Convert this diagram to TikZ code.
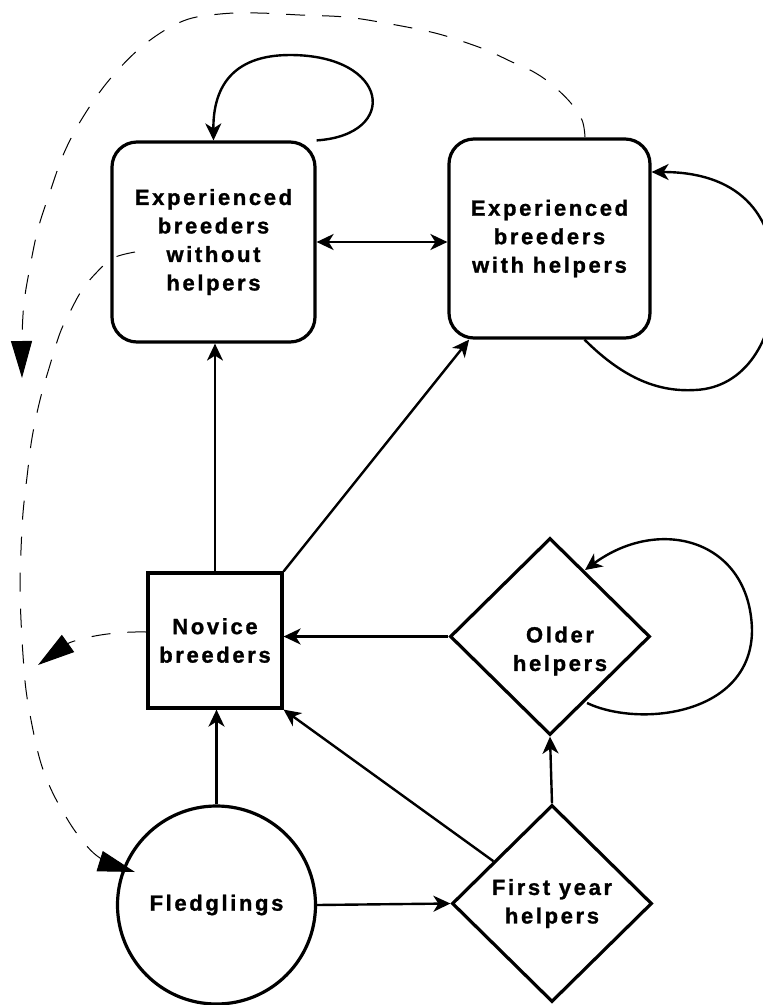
\documentclass[tikz,border=0pt]{standalone}
\usepackage{fontspec}
\setmainfont{Liberation Sans}[LetterSpace=12,FakeBold=1.2]
\usetikzlibrary{arrows.meta,shapes.geometric}
\begin{document}
\begin{tikzpicture}[x=1pt,y=-1pt,
  txt/.style={font=\bfseries\fontsize{22}{28.5}\selectfont, align=center},
  shp/.style={draw, line width=3.2pt, inner sep=0pt, txt},
  rbox/.style={shp, rectangle, rounded corners=25pt},
  dmd/.style={shp, diamond, minimum width=200pt, minimum height=197pt},
  conn/.style={line width=2.4pt, -{Stealth[length=17pt,width=16pt,inset=5pt]}},
  dline/.style={line width=1pt, dash pattern=on 19pt off 17pt, -{Triangle[length=37pt,width=21pt]}}]
\useasboundingbox (0,0) rectangle (763,1005);

% nodes
\node[rbox, minimum width=203pt, minimum height=200pt] (ebw) at (213.5,242) {Experienced\\breeders\\without\\helpers};
\node[rbox, minimum width=201pt, minimum height=199pt] (ebh) at (549.5,238.5) {Experienced\\breeders\\with helpers};
\node[shp, rectangle, minimum width=134pt, minimum height=135pt] (novice) at (215,640.5) {Novice\\breeders};
\node[dmd] (older) at (550,636.5) {};
\node[txt] (olderlbl) at (560,651) {Older\\helpers};
\node[dmd] (first) at (552,903.5) {First year\\helpers};
\node[shp, circle, minimum size=198pt] (fled) at (216.5,905) {Fledglings};

% solid connectors
\draw[conn] (fled.north) -- (fled.north |- novice.south);
\draw[conn, line width=1.8pt] (novice.north) -- (novice.north |- ebw.south);
\draw[conn] (novice.north east) -- (ebh);
\draw[conn, {Stealth[length=17pt,width=16pt,inset=5pt]}-{Stealth[length=17pt,width=16pt,inset=5pt]}] (ebw.east) -- (ebw.east -| ebh.west);
\draw[conn] (older.west) -- (older.west -| novice.east);
\draw[conn] (first) -- (novice.south east);
\draw[conn] (first.north) -- (older.south);
\draw[conn] (fled.east) -- (first.west);

% self loops
\draw[conn] (ebw.north east) .. controls (400,135) and (390,55) .. (290,55)
  .. controls (230,55) and (213,90) .. (ebw.north);
\draw[conn] ([xshift=35pt]ebh.south) .. controls (625,380) and (660,392) .. (695,390)
  .. controls (745,388) and (775,340) .. (775,280)
  .. controls (775,210) and (735,172) .. (ebh.east |- 0,172);
\draw[conn] (587,703) .. controls (640,728) and (752,715) .. (752,630)
  .. controls (750,540) and (660,515) .. (585,570);

% dashed connectors
\coordinate (outerend) at (22,378);
\coordinate (innerstart) at (135,252);
\coordinate (novend) at (38,665);
\draw[dline] plot[smooth, tension=0.6] coordinates {(585,137) (582,120) (570,102) (550,83) (532,71) (512,62) (493,53) (473,45) (435,33) (385,23) (345,17) (300,15) (258,13) (220,14) (183,21) (145,44) (110,79) (83,117) (64,153) (50,192) (38,229) (30,267) (24,303) (22,340) (outerend)};
\draw[dline] plot[smooth, tension=0.6] coordinates {(innerstart) (113,258) (97,272) (82,290) (70,312) (60,333) (50,365) (40,400) (32,438) (27,477) (23,513) (21,550) (20,587) (21,620) (23,655) (26,690) (32,725) (40,760) (50,787) (62,810) (78,835) (100,858) (135,872)};
\draw[dline] (novice.west |- 0,632) .. controls (100,631) and (70,642) .. (novend);
\end{tikzpicture}
\end{document}
